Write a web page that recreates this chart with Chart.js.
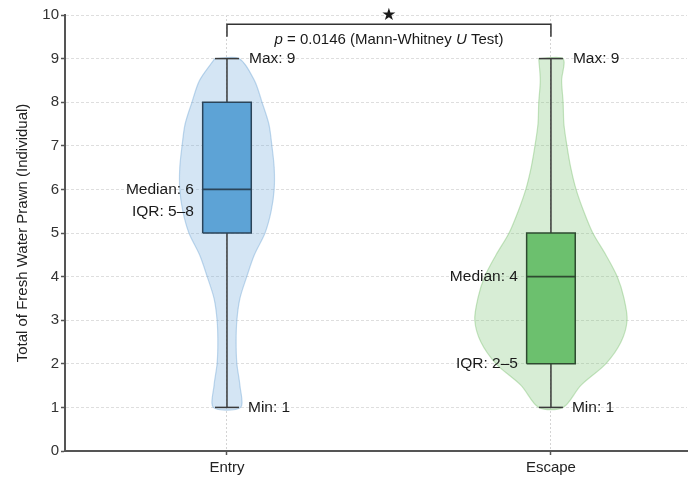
<!DOCTYPE html>
<html>
<head>
<meta charset="utf-8">
<script src="https://cdn.jsdelivr.net/npm/chart.js@4.4.1/dist/chart.umd.min.js"></script>
<style>
  html, body { margin: 0; padding: 0; background: #ffffff; }
  #wrap { width: 700px; height: 479px; position: relative; }
</style>
</head>
<body>
<div id="wrap"><canvas id="c" width="700" height="479"></canvas></div>
<script>
// ---------- data ----------
const categories = ['Entry', 'Escape'];
const minValues = [1, 1];
const q1Values = [5, 2];
const medianValues = [6, 4];
const q3Values = [8, 5];
const maxValues = [9, 9];
const densityLevels = [1, 1.5, 2, 2.5, 3, 3.5, 4, 4.5, 5, 5.5, 6, 6.5, 7, 7.5, 8, 8.5, 9];
const entryDensity  = [0.18, 0.17, 0.13, 0.12, 0.13, 0.17, 0.26, 0.36, 0.50, 0.58, 0.62, 0.62, 0.59, 0.55, 0.46, 0.36, 0.16];
const escapeDensity = [0.16, 0.39, 0.72, 0.92, 1.00, 0.96, 0.87, 0.72, 0.55, 0.43, 0.33, 0.26, 0.21, 0.17, 0.16, 0.14, 0.16];
const yTickValues = [0, 1, 2, 3, 4, 5, 6, 7, 8, 9, 10];
const pValueText = '0.0146';
const testName = 'Mann-Whitney';
const yAxisTitle = 'Total of Fresh Water Prawn (Individual)';

// ---------- style ----------
const FONT = '"Liberation Sans", Arial, Helvetica, sans-serif';
const VIOLIN_HALF = 0.235;
const BOX_HALF = 0.075;
const CAP_HALF = 0.037;
const violinFill = ['rgba(120,175,220,0.32)', 'rgba(130,200,125,0.32)'];
const violinLine = ['rgba(120,170,215,0.45)', 'rgba(130,195,120,0.45)'];
const boxFill = ['#5da3d6', '#6cc06e'];
const boxLine = ['#2b4459', '#2e4a30'];
const densities = [entryDensity, escapeDensity];

const datasets = [];
categories.forEach((cat, i) => {
  const d = densities[i];
  const pts = [];
  for (let k = densityLevels.length - 1; k >= 0; k--) pts.push({x: i - d[k] * VIOLIN_HALF, y: densityLevels[k]});
  for (let k = 0; k < densityLevels.length; k++) pts.push({x: i + d[k] * VIOLIN_HALF, y: densityLevels[k]});
  pts.push({x: pts[0].x, y: pts[0].y});
  datasets.push({
    label: cat + ' violin', data: pts, showLine: true, fill: 'shape',
    backgroundColor: violinFill[i], borderColor: violinLine[i], borderWidth: 1.2,
    pointRadius: 0, tension: 0.3, order: 5
  });
  datasets.push({
    label: cat + ' whisker', data: [{x: i, y: minValues[i]}, {x: i, y: maxValues[i]}],
    showLine: true, borderColor: '#3a3a3a', borderWidth: 1.5, pointRadius: 0, order: 4
  });
  [minValues[i], maxValues[i]].forEach(v => {
    datasets.push({
      label: cat + ' cap', data: [{x: i - CAP_HALF, y: v}, {x: i + CAP_HALF, y: v}],
      showLine: true, borderColor: '#3a3a3a', borderWidth: 1.5, pointRadius: 0, order: 3
    });
  });
  datasets.push({
    label: cat + ' box',
    data: [{x: i - BOX_HALF, y: q1Values[i]}, {x: i + BOX_HALF, y: q1Values[i]},
           {x: i + BOX_HALF, y: q3Values[i]}, {x: i - BOX_HALF, y: q3Values[i]},
           {x: i - BOX_HALF, y: q1Values[i]}],
    showLine: true, fill: 'shape', backgroundColor: boxFill[i], borderColor: boxLine[i],
    borderWidth: 1.5, pointRadius: 0, tension: 0, order: 2
  });
  datasets.push({
    label: cat + ' median', data: [{x: i - BOX_HALF, y: medianValues[i]}, {x: i + BOX_HALF, y: medianValues[i]}],
    showLine: true, borderColor: boxLine[i], borderWidth: 1.8, pointRadius: 0, order: 1
  });
});

const annotationPlugin = {
  id: 'annot',
  afterDatasetsDraw(chart) {
    const {ctx, scales: {x, y}} = chart;
    ctx.save();
    ctx.fillStyle = '#1a1a1a';
    ctx.font = '15.5px ' + FONT;
    ctx.textBaseline = 'middle';
    categories.forEach((cat, i) => {
      const cx = x.getPixelForValue(i);
      ctx.textAlign = 'left';
      ctx.fillText('Max: ' + maxValues[i], cx + 22, y.getPixelForValue(maxValues[i]));
      ctx.fillText('Min: ' + minValues[i], cx + 21, y.getPixelForValue(minValues[i]));
      ctx.textAlign = 'right';
      const my = y.getPixelForValue(medianValues[i]);
      ctx.fillText('Median: ' + medianValues[i], cx - 33, my);
      const iqrText = 'IQR: ' + q1Values[i] + '\u2013' + q3Values[i];
      const iy = i === 0 ? my + 22 : y.getPixelForValue(q1Values[i]);
      ctx.fillText(iqrText, cx - 33, iy);
    });

    const x0 = x.getPixelForValue(0), x1 = x.getPixelForValue(1);
    const by = y.getPixelForValue(9.79), bt = y.getPixelForValue(9.5);
    ctx.strokeStyle = '#333';
    ctx.lineWidth = 1.5;
    ctx.beginPath();
    ctx.moveTo(x0, bt); ctx.lineTo(x0, by); ctx.lineTo(x1, by); ctx.lineTo(x1, bt);
    ctx.stroke();
    const mid = (x0 + x1) / 2;
    ctx.textAlign = 'center';
    ctx.font = '17px "DejaVu Sans", ' + FONT;
    ctx.fillStyle = '#1a1a1a';
    ctx.fillText('\u2605', mid, by - 9);

    const segs = [
      {t: 'p', it: true}, {t: ' = ' + pValueText + ' (' + testName + ' ', it: false},
      {t: 'U', it: true}, {t: ' Test)', it: false}
    ];
    const fs = 15;
    let total = 0;
    segs.forEach(s => { ctx.font = (s.it ? 'italic ' : '') + fs + 'px ' + FONT; s.w = ctx.measureText(s.t).width; total += s.w; });
    let sx = mid - total / 2;
    ctx.textAlign = 'left';
    segs.forEach(s => { ctx.font = (s.it ? 'italic ' : '') + fs + 'px ' + FONT; ctx.fillText(s.t, sx, by + 16); sx += s.w; });
    ctx.restore();
  }
};

new Chart(document.getElementById('c'), {
  type: 'scatter',
  data: { datasets },
  options: {
    responsive: false,
    animation: false,
    events: [],
    layout: { padding: { top: 15, right: 13, left: 0, bottom: 0 } },
    plugins: { legend: { display: false }, tooltip: { enabled: false } },
    scales: {
      x: {
        type: 'linear', min: -0.5, max: 1.42,
        afterBuildTicks: s => { s.ticks = categories.map((c, i) => ({value: i})); },
        afterFit: s => { s.height = 28; },
        ticks: { callback: v => categories[v], color: '#222', font: { family: FONT, size: 15 }, padding: 4, maxRotation: 0, autoSkip: false },
        grid: { color: '#d4d4d4', lineWidth: 1, tickLength: 4, tickColor: '#555', tickWidth: 1.5 },
        border: { display: true, color: '#555', width: 2, dash: [2, 2] }
      },
      y: {
        type: 'linear', min: 0, max: 10,
        afterBuildTicks: s => { s.ticks = yTickValues.map(v => ({value: v})); },
        afterFit: s => { s.width = 65; },
        ticks: { color: '#333', font: { family: FONT, size: 15 }, padding: 2 },
        grid: { color: '#dedede', lineWidth: 1, tickLength: 4, tickColor: '#555', tickWidth: 1.5 },
        border: { display: true, color: '#555', width: 2, dash: [3, 2] },
        title: { display: true, text: yAxisTitle, color: '#222', font: { family: FONT, size: 15 }, padding: { top: 14, bottom: 0 } }
      }
    }
  },
  plugins: [annotationPlugin]
});
</script>
</body>
</html>
